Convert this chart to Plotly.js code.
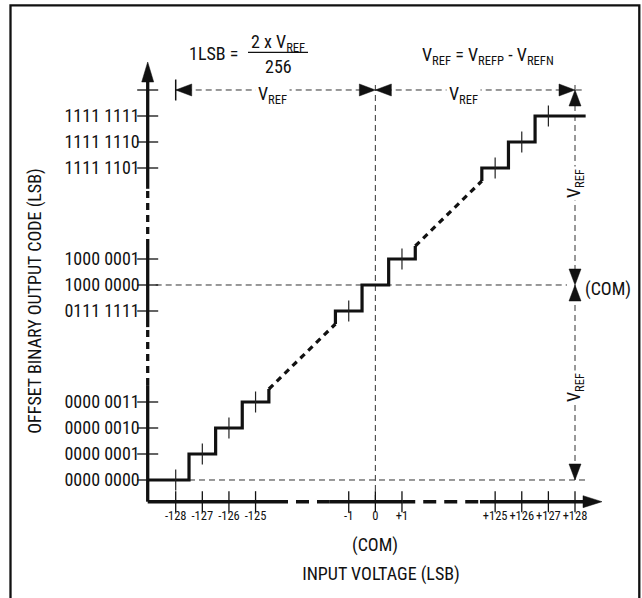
<!DOCTYPE html>
<html><head><meta charset="utf-8">
<script src="https://cdn.plot.ly/plotly-3.0.1.min.js"></script>
<style>html,body{margin:0;padding:0;background:#fff}</style>
</head><body><div id="chart" style="width:642px;height:598px"></div>
<script>
// ---------------- data ----------------
const inputTicks = [-128, -127, -126, -125, -1, 0, 1, 125, 126, 127, 128];
const inputTickText = ['-128', '-127', '-126', '-125', '-1', '0', '+1', '+125', '+126', '+127', '+128'];
const codeTicks = [0, 1, 2, 3, 127, 128, 129, 253, 254, 255];
const codeTickText = ['0000 0000', '0000 0001', '0000 0010', '0000 0011', '0111 1111', '1000 0000', '1000 0001', '1111 1101', '1111 1110', '1111 1111'];
const lowerCodes = [0, 1, 2, 3];
const middleCodes = [127, 128, 129];
const upperCodes = [253, 254, 255];
const fullScaleCode = 256;   // Vref span (2 x Vref = 256 LSB)
const midCode = 128;         // (COM)
const codeOffset = 128;      // code = input + 128

// ---------------- broken-axis scale ----------------
function ux(i) { if (i <= -60) return i + 128; if (i < 60) return i + 7.5; return i - 113; }
function vy(c) { if (c <= 64) return c; if (c < 190) return c - 120.5; return c - 241; }

const W = 642, H = 598;
const XPX = 26.62, YPX = 26.0, U0PX = 175.7, V0PX = 480;
const uOf = px => (px - U0PX) / XPX;
const vOf = py => (V0PX - py) / YPX;
const XDOM = [0.187, 1], YDOM = [0, 0.9933];
const xRange = [uOf(XDOM[0] * W), uOf(W)];
const yRange = [vOf(H), vOf(H * (1 - YDOM[1]))];
const AXIS_U = uOf(147.7), AXIS_V = vOf(501.7);

const FONT = "'Liberation Sans Narrow', 'Arial Narrow', 'Roboto Condensed', 'DejaVu Sans Condensed', 'Liberation Sans', Arial, sans-serif";
const INK = '#111';

// ---------------- staircase ----------------
function stepPath(codes, startI, endI, leadIn, leadOut) {
  const xs = [], ys = [];
  codes.forEach((c, k) => {
    const a = (k === 0 && startI !== null) ? startI : c - codeOffset - 0.5;
    const b = (k === codes.length - 1 && endI !== null) ? endI : c - codeOffset + 0.5;
    if (k === 0 && leadIn) { xs.push(ux(a)); ys.push(vy(c - 0.5)); }
    xs.push(ux(a)); ys.push(vy(c));
    xs.push(ux(b)); ys.push(vy(c));
  });
  if (leadOut) { const c = codes[codes.length - 1]; xs.push(ux(c - codeOffset + 0.5)); ys.push(vy(c + 0.5)); }
  return [xs, ys];
}
const sLow = stepPath(lowerCodes, null, null, false, true);
sLow[0][0] = AXIS_U;
const sMid = stepPath(middleCodes, null, null, true, true);
const sUp = stepPath(upperCodes, null, 128.4, true, false);
const solidX = [...sLow[0], null, ...sMid[0], null, ...sUp[0]];
const solidY = [...sLow[1], null, ...sMid[1], null, ...sUp[1]];
const breakX = [sLow[0][sLow[0].length - 1], sMid[0][0], null, sMid[0][sMid[0].length - 1], sUp[0][0]];
const breakY = [sLow[1][sLow[1].length - 1], sMid[1][0], null, sMid[1][sMid[1].length - 1], sUp[1][0]];

// step-centre ticks
const stepTickCodes = codeTicks.filter(c => c !== midCode);
const stepTickX = stepTickCodes.map(c => ux(c - codeOffset));
const stepTickY = stepTickCodes.map(c => vy(c));

// ---------------- axes (drawn) ----------------
const xSolid = [[AXIS_U, 3.73], [5.79, 8.51], [11.43, uOf(584)]];
const xDash = [[3.73, 5.79], [8.51, 11.43]];
const ySolid = [[AXIS_V, 3.65], [5.88, 9.0], [11.2, vOf(81)]];
const yDash = [[3.65, 5.88], [9.0, 11.2]];
function hseg(list, v) { const x = [], y = []; list.forEach(s => { x.push(s[0], s[1], null); y.push(v, v, null); }); return [x, y]; }
function vseg(list, u) { const x = [], y = []; list.forEach(s => { x.push(u, u, null); y.push(s[0], s[1], null); }); return [x, y]; }
const xs1 = hseg(xSolid, AXIS_V), xd1 = hseg(xDash, AXIS_V);
const ys1 = vseg(ySolid, AXIS_U), yd1 = vseg(yDash, AXIS_U);

// ---------------- guides ----------------
const uTop = vy(fullScaleCode), uFull = ux(128), uZero = ux(0);
const guideX = [
  ux(-128), uOf(583), null,               // Vref dimension line
  uZero, uZero, null,                    // COM vertical
  uFull, uFull, null,                    // right dimension line
  AXIS_U + 0.3, uOf(567), null,          // code 128 line
  ux(-127.5), uOf(588)                   // code 0 line
];
const guideY = [
  uTop, uTop, null,
  vOf(85), AXIS_V, null,
  vOf(85), vy(0), null,
  vy(midCode), vy(midCode), null,
  vy(0), vy(0)
];

// ---------------- arrowheads ----------------
function tri(u, v, dir, len, wid) {
  const l = len, w = wid / 2;
  if (dir === 'right') return [[u, v], [u - l / XPX, v + w / YPX], [u - l / XPX, v - w / YPX]];
  if (dir === 'left') return [[u, v], [u + l / XPX, v + w / YPX], [u + l / XPX, v - w / YPX]];
  if (dir === 'up') return [[u, v], [u - w / XPX, v - l / YPX], [u + w / XPX, v - l / YPX]];
  return [[u, v], [u - w / XPX, v + l / YPX], [u + w / XPX, v + l / YPX]];
}
const tris = [
  tri(AXIS_U, vOf(62), 'up', 20, 12),
  tri(uOf(602), AXIS_V, 'right', 19, 12),
  tri(ux(-128), uTop, 'left', 16, 12),
  tri(uZero, uTop, 'right', 16, 12),
  tri(uZero, uTop, 'left', 16, 12),
  tri(uFull, uTop, 'right', 16, 12),
  tri(uFull, uTop, 'up', 16, 12),
  tri(uFull, vy(midCode), 'down', 16, 12),
  tri(uFull, vy(midCode), 'up', 16, 12),
  tri(uFull, vy(0), 'down', 16, 12)
];
const triX = [], triY = [];
tris.forEach(t => { t.forEach(p => { triX.push(p[0]); triY.push(p[1]); }); triX.push(t[0][0], null); triY.push(t[0][1], null); });

const traces = [
  {x: guideX, y: guideY, mode: 'lines', line: {color: '#333', width: 1, dash: '6px,4px'}},
  {x: xs1[0], y: xs1[1], mode: 'lines', line: {color: INK, width: 3.4}},
  {x: xd1[0], y: xd1[1], mode: 'lines', line: {color: INK, width: 3.4, dash: '13px,8px'}},
  {x: ys1[0], y: ys1[1], mode: 'lines', line: {color: INK, width: 3.3}},
  {x: yd1[0], y: yd1[1], mode: 'lines', line: {color: INK, width: 3.3, dash: '7px,5px'}},
  {x: solidX, y: solidY, mode: 'lines', line: {color: INK, width: 3.2}},
  {x: breakX, y: breakY, mode: 'lines', line: {color: INK, width: 3.2, dash: '6px,5px'}},
  {x: stepTickX, y: stepTickY, mode: 'markers', marker: {symbol: 'line-ns', size: 15, line: {color: '#222', width: 1.2}}},
  {x: inputTicks.map(ux), y: inputTicks.map(() => AXIS_V), mode: 'markers', marker: {symbol: 'line-ns', size: 15, line: {color: INK, width: 1.3}}},
  {x: codeTicks.concat([fullScaleCode]).map(() => AXIS_U), y: codeTicks.concat([fullScaleCode]).map(vy), mode: 'markers', marker: {symbol: 'line-ew', size: 15, line: {color: INK, width: 1.3}}},
  {x: [ux(-128)], y: [uTop], mode: 'markers', marker: {symbol: 'line-ns', size: 15, line: {color: INK, width: 1.5}}},
  {x: triX, y: triY, mode: 'lines', fill: 'toself', fillcolor: INK, line: {color: INK, width: 0.5}}
];

const ann = (text, x, y, o) => Object.assign({text, x, y, xref: 'x', yref: 'y', showarrow: false, font: {size: 18, color: INK, family: FONT}}, o || {});
const annotations = [
  ann('1LSB =', uOf(240), vOf(54), {xanchor: 'right'}),
  ann('2 x V<sub>REF</sub>', uOf(278), vOf(43)),
  ann('256', uOf(278), vOf(66.5)),
  ann('V<sub>REF</sub> = V<sub>REFP</sub> - V<sub>REFN</sub>', uOf(487.5), vOf(56)),
  ann('V<sub>REF</sub>', uOf(272), vOf(95), {bgcolor: 'white', borderpad: 2}),
  ann('V<sub>REF</sub>', uOf(463), vOf(95), {bgcolor: 'white', borderpad: 2}),
  ann('V<sub>REF</sub>', uFull, vOf(184), {textangle: -90, bgcolor: 'white', borderpad: 2}),
  ann('V<sub>REF</sub>', uFull, vOf(388), {textangle: -90, bgcolor: 'white', borderpad: 2}),
  ann('(COM)', uOf(583), vOf(289.5), {xanchor: 'left'}),
  ann('(COM)', uZero, vOf(545))
];

const layout = {
  width: W, height: H, margin: {l: 0, r: 0, t: 0, b: 0},
  paper_bgcolor: 'white', plot_bgcolor: 'rgba(0,0,0,0)', showlegend: false, hovermode: false,
  font: {family: FONT, color: INK, size: 18},
  xaxis: {domain: XDOM, range: xRange, anchor: 'free', position: 1 - 501.7 / H,
    tickmode: 'array', tickvals: inputTicks.map(ux), ticktext: inputTickText, tickfont: {size: 12.5}, tickangle: 0,
    ticks: '', showgrid: false, zeroline: false, showline: false, ticklabelstandoff: 5,
    title: {text: 'INPUT VOLTAGE (LSB)', font: {size: 18}, standoff: 45}, fixedrange: true},
  yaxis: {domain: YDOM, range: yRange, anchor: 'free', position: 147.7 / W,
    tickmode: 'array', tickvals: codeTicks.map(vy), ticktext: codeTickText, tickfont: {size: 18},
    ticks: '', showgrid: false, zeroline: false, showline: false, ticklabelstandoff: 8,
    title: {text: 'OFFSET BINARY OUTPUT CODE (LSB)', font: {size: 18}, standoff: 17}, fixedrange: true},
  shapes: [
    {type: 'rect', xref: 'paper', yref: 'paper', x0: 10.5 / W, x1: 639.3 / W, y0: -0.02, y1: 1 - 5.3 / H, line: {color: INK, width: 2.3}},
    {type: 'line', xref: 'x', yref: 'y', x0: uOf(248), x1: uOf(308), y0: vOf(52.3), y1: vOf(52.3), line: {color: INK, width: 1.2}}
  ],
  annotations
};
Plotly.newPlot('chart', traces, layout, {displayModeBar: false, staticPlot: true});
</script></body></html>
